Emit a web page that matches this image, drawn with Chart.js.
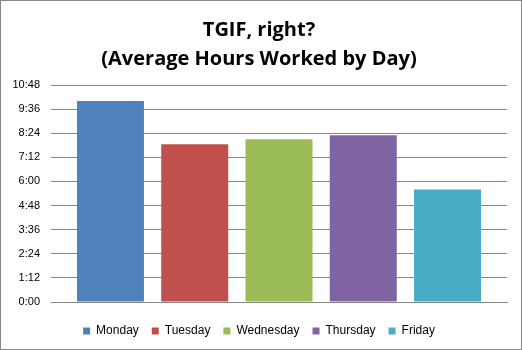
<!DOCTYPE html>
<html>
<head>
<meta charset="utf-8">
<script src="https://cdn.jsdelivr.net/npm/chart.js@4"></script>
<style>
    html, body { margin: 0; padding: 0; background: #fff; }
    #wrap { width: 520px; height: 348px; border: 1px solid #868686; position: relative; }
</style>
</head>
<body>
<div id="wrap"><canvas id="hoursChart" width="520" height="348"></canvas></div>
<script>
// Data
const days = ['Monday', 'Tuesday', 'Wednesday', 'Thursday', 'Friday'];
const avgHours = [10.0, 7.85, 8.1, 8.3, 5.6];
const dayColors = ['#4F81BD', '#C0504D', '#9BBB59', '#8064A2', '#4BACC6'];
const titleLines = ['TGIF, right?', '(Average Hours Worked by Day)'];

// 1.2 hours -> "1:12"
function toClock(v) {
    const mins = Math.round(v * 60);
    const m = mins % 60;
    return Math.floor(mins / 60) + ':' + (m < 10 ? '0' + m : m);
}

// one series per day inside a single category, like the Excel original
const datasets = days.map((d, i) => ({
    label: d,
    data: [avgHours[i]],
    backgroundColor: dayColors[i],
    borderWidth: 0,
    categoryPercentage: 0.924,
    barPercentage: 0.795
}));

document.addEventListener('DOMContentLoaded', () => {
    const ctx = document.getElementById('hoursChart');
    new Chart(ctx, {
        type: 'bar',
        data: {
            labels: [''],
            datasets: datasets
        },
        options: {
            responsive: false,
            animation: false,
            layout: { padding: { left: 10, right: 14, top: 6, bottom: 2 } },
            scales: {
                x: {
                    afterFit: (scale) => { scale.height = 10; },
                    ticks: { display: false },
                    grid: { display: false },
                    border: { color: '#868686', width: 1 }
                },
                y: {
                    min: 0,
                    max: 10.8,
                    // fixed width so the plot starts where the reference does
                    afterFit: (scale) => { scale.width = 40; },
                    ticks: {
                        stepSize: 1.2,
                        padding: 11,
                        color: '#000',
                        font: { family: 'Liberation Sans', size: 11 },
                        callback: (v) => toClock(v)
                    },
                    grid: { color: '#868686', drawTicks: false },
                    border: { display: false }
                }
            },
            plugins: {
                title: {
                    display: true,
                    text: titleLines,
                    color: '#000',
                    font: { family: 'Open Sans', size: 20, weight: 'bold', lineHeight: 1.45 },
                    padding: { top: 9, bottom: 11 }
                },
                legend: {
                    position: 'bottom',
                    labels: {
                        boxWidth: 7,
                        boxHeight: 7,
                        padding: 13,
                        color: '#000',
                        font: { family: 'Liberation Sans', size: 12 }
                    }
                },
                tooltip: { enabled: false }
            }
        }
    });
});
</script>
</body>
</html>
